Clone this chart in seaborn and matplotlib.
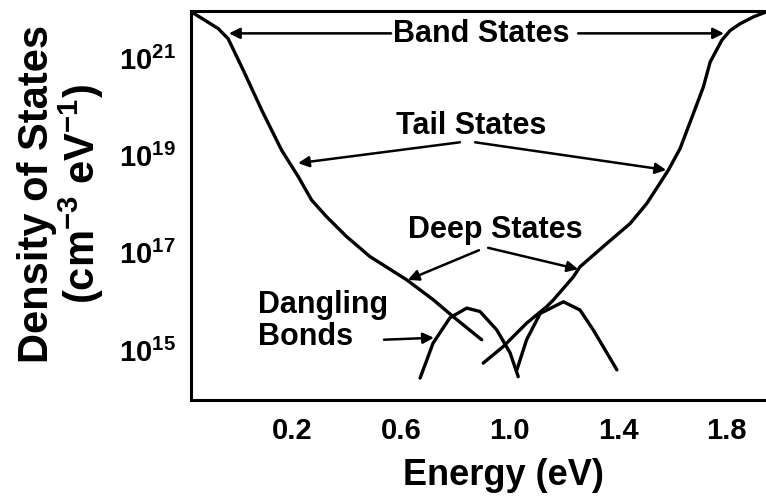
import matplotlib
matplotlib.use("Agg")
import matplotlib.pyplot as plt
import matplotlib.ticker as mticker
import numpy as np
import pandas as pd
import seaborn as sns

# Valence-band side: band states running into the exponential tail
vb_energy = [-0.173, -0.075, -0.038, 0.018, 0.086, 0.159, 0.221, 0.270,
             0.325, 0.399, 0.485, 0.621, 0.719, 0.793, 0.897]
vb_log_dos = [21.95, 21.61, 21.40, 20.75, 19.93, 19.11, 18.56, 18.08,
              17.74, 17.33, 16.92, 16.44, 16.03, 15.68, 15.21]

# Conduction-band side: tail rising into the band states
cb_energy = [0.903, 0.977, 1.063, 1.137, 1.162, 1.235, 1.260, 1.359, 1.445,
             1.506, 1.555, 1.586, 1.629, 1.678, 1.715, 1.740, 1.783, 1.814,
             1.851, 1.900, 1.946]
cb_log_dos = [14.73, 15.07, 15.55, 15.89, 16.03, 16.50, 16.71, 17.19, 17.60,
              18.01, 18.43, 18.70, 19.14, 19.86, 20.41, 20.92, 21.37, 21.57,
              21.71, 21.85, 21.95]

# Dangling-bond (deep state) distributions
db1_energy = [0.670, 0.718, 0.780, 0.842, 0.891, 0.953, 1.002, 1.032]
db1_log_dos = [14.42, 15.14, 15.66, 15.86, 15.79, 15.41, 14.94, 14.45]
db2_energy = [1.027, 1.063, 1.113, 1.199, 1.260, 1.309, 1.396]
db2_log_dos = [14.59, 15.21, 15.75, 15.99, 15.82, 15.41, 14.59]

x_major = [0.2, 0.6, 1.0, 1.4, 1.8]
x_minor = [0.0, 0.4, 0.8, 1.2, 1.6]
y_major_exp = [15, 17, 19, 21]
y_minor_exp = [16, 18, 20]

sns.set_style("white")
plt.rcParams["font.family"] = ["Liberation Sans", "DejaVu Sans"]
plt.rcParams["font.weight"] = "bold"
plt.rcParams["text.color"] = "black"
plt.rcParams["axes.labelcolor"] = "black"
plt.rcParams["xtick.color"] = "black"
plt.rcParams["ytick.color"] = "black"
plt.rcParams["mathtext.fontset"] = "custom"
plt.rcParams["mathtext.rm"] = "Liberation Sans:bold"
plt.rcParams["mathtext.it"] = "Liberation Sans:bold"
plt.rcParams["mathtext.bf"] = "Liberation Sans:bold"

frames = []
for name, e, lg in [("vb", vb_energy, vb_log_dos), ("cb", cb_energy, cb_log_dos),
                    ("db1", db1_energy, db1_log_dos), ("db2", db2_energy, db2_log_dos)]:
    frames.append(pd.DataFrame({"curve": name, "energy": e,
                                "dos": np.power(10.0, lg)}))
df = pd.concat(frames, ignore_index=True)

fig = plt.figure(figsize=(7.66, 5.0), dpi=100)
ax = fig.add_axes([191 / 766, 0.2, 1 - 191 / 766, 0.778])

for name, sub in df.groupby("curve", sort=False):
    sns.lineplot(data=sub, x="energy", y="dos", ax=ax, color="black",
                 lw=2.4, sort=False, estimator=None, legend=False)

ax.set_yscale("log")
ax.set_xlim(-0.175, 1.946)
ax.set_ylim(10 ** 13.97, 10 ** 21.97)

ax.xaxis.set_major_locator(mticker.FixedLocator(x_major))
ax.xaxis.set_minor_locator(mticker.FixedLocator(x_minor))
ax.xaxis.set_major_formatter(mticker.FixedFormatter([f"{v:.1f}" for v in x_major]))
ax.yaxis.set_major_locator(mticker.FixedLocator([10.0 ** k for k in y_major_exp]))
ax.yaxis.set_minor_locator(mticker.FixedLocator([10.0 ** k for k in y_minor_exp]))
ax.yaxis.set_major_formatter(mticker.FixedFormatter([f"$10^{{{k}}}$" for k in y_major_exp]))
ax.yaxis.set_minor_formatter(mticker.NullFormatter())

ax.tick_params(axis="both", which="both", direction="in", length=5, width=1.5,
               colors="black")
ax.tick_params(axis="x", which="major", labelsize=21, pad=12)
ax.tick_params(axis="y", which="major", labelsize=21, pad=11)
for lab in ax.get_xticklabels():
    lab.set_fontweight("bold")

for side in ["left", "bottom", "top"]:
    ax.spines[side].set_linewidth(2.2)
    ax.spines[side].set_color("black")
ax.spines["right"].set_visible(False)

ax.set_xlabel("Energy (eV)", fontsize=26, fontweight="bold")
ax.xaxis.set_label_coords((503 - 191) / 575, -0.15)
ax.set_ylabel("Density of States\n(cm$^{-3}$ eV$^{-1}$)", fontsize=30,
              fontweight="bold", linespacing=1.0)
ax.yaxis.set_label_coords((106 - 191) / 575, 0.53)

txt = dict(fontsize=22, fontweight="bold", color="black")
arrow = dict(arrowstyle="-|>", color="black", lw=1.8, mutation_scale=16,
             shrinkA=0, shrinkB=0)


def dos(log_value):
    return 10.0 ** log_value


ax.text(0.895, dos(21.50), "Band States", ha="center", va="center", **txt)
ax.annotate("", xy=(-0.035, dos(21.51)), xytext=(0.563, dos(21.51)), arrowprops=arrow)
ax.annotate("", xy=(1.791, dos(21.51)), xytext=(1.253, dos(21.51)), arrowprops=arrow)

ax.text(0.858, dos(19.60), "Tail States", ha="center", va="center", **txt)
ax.annotate("", xy=(0.220, dos(18.84)), xytext=(0.817, dos(19.27)), arrowprops=arrow)
ax.annotate("", xy=(1.578, dos(18.70)), xytext=(0.873, dos(19.27)), arrowprops=arrow)

ax.text(0.946, dos(17.47), "Deep States", ha="center", va="center", **txt)
ax.annotate("", xy=(0.625, dos(16.44)), xytext=(0.887, dos(17.05)), arrowprops=arrow)
ax.annotate("", xy=(1.253, dos(16.66)), xytext=(0.921, dos(17.10)), arrowprops=arrow)

ax.text(0.072, dos(15.60), "Dangling\nBonds", ha="left", va="center",
        linespacing=1.1, **txt)
ax.annotate("", xy=(0.721, dos(15.25)), xytext=(0.537, dos(15.21)), arrowprops=arrow)

fig.savefig("out.png", dpi=100)
